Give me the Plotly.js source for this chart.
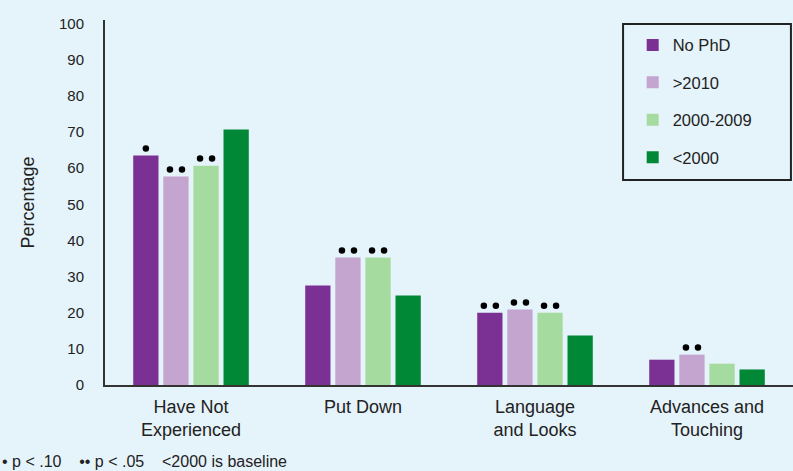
<!DOCTYPE html>
<html>
<head>
<meta charset="utf-8">
<script src="https://cdn.plot.ly/plotly-3.0.1.min.js"></script>
<style>
html,body{margin:0;padding:0;background:#e5f3fa;}
#chart{width:793px;height:471px;}
</style>
</head>
<body>
<div id="chart"></div>
<script>
// Data
const categories = ["Have Not<br>Experienced", "Put Down", "Language<br>and Looks", "Advances and<br>Touching"];
const seriesNames = ["No PhD", ">2010", "2000-2009", "<2000"];
const noPhd      = [63.5, 27.5, 20.0, 7.0];
const after2010  = [57.7, 35.3, 20.9, 8.4];
const y2000s     = [60.7, 35.3, 20.0, 5.9];
const before2000 = [70.7, 24.8, 13.7, 4.3];
// significance level vs <2000 baseline: 1 = p<.10 (one dot), 2 = p<.05 (two dots), 0 = none
const sigNoPhd      = [1, 0, 2, 0];
const sigAfter2010  = [2, 2, 2, 2];
const sigY2000s     = [2, 2, 2, 0];
const sigBefore2000 = [0, 0, 0, 0];
const yTicks = [0,10,20,30,40,50,60,70,80,90,100];
const footnote = "•\u00a0p < .10\u00a0\u00a0\u00a0\u00a0••\u00a0p < .05\u00a0\u00a0\u00a0\u00a0<2000 is baseline";

const colors = ["#7b3193", "#c3a5cf", "#a6dba0", "#008837"];
const values = [noPhd, after2010, y2000s, before2000];
const sigs = [sigNoPhd, sigAfter2010, sigY2000s, sigBefore2000];

const regular = "Liberation Sans, Arial, sans-serif";
const bargap = 0.3, bargroupgap = 0.16;
const nSeries = seriesNames.length;
const slot = (1 - bargap) / nSeries;
const xIdx = categories.map((c, i) => i);

const traces = values.map((v, i) => ({
  type: "bar",
  name: seriesNames[i],
  x: xIdx,
  y: v,
  marker: {color: colors[i], line: {width: 0}},
  legendgroup: "g" + i,
  hoverinfo: "none"
}));

// significance dots placed over the bars via the axis scales
const dotX = [], dotY = [];
const dotSep = 0.035;   // half distance between paired dots (x units)
const dotLift = 1.95;   // gap above bar top (y units)
sigs.forEach((s, i) => {
  const off = (i - (nSeries - 1) / 2) * slot;
  s.forEach((n, j) => {
    const cx = j + off, cy = values[i][j] + dotLift;
    if (n === 1) { dotX.push(cx); dotY.push(cy); }
    if (n === 2) { dotX.push(cx - dotSep, cx + dotSep); dotY.push(cy, cy); }
  });
});
traces.push({
  type: "scatter", mode: "markers", x: dotX, y: dotY,
  marker: {color: "#000", size: 6.5, line: {width: 0}},
  showlegend: false, hoverinfo: "none", cliponaxis: false
});

const layout = {
  width: 793, height: 471,
  margin: {l: 105, r: 0, t: 20, b: 86},
  paper_bgcolor: "#e5f3fa",
  plot_bgcolor: "#e5f3fa",
  barmode: "group",
  bargap: bargap,
  bargroupgap: bargroupgap,
  showlegend: true,
  legend: {
    x: 0.767, xanchor: "left",
    y: 0.979, yanchor: "top",
    bgcolor: "rgba(0,0,0,0)",
    borderwidth: 0,
    font: {family: regular, size: 16.5, color: "#222"},
    traceorder: "grouped",
    tracegroupgap: 13,
    itemclick: false
  },
  xaxis: {
    range: [-0.5, 3.5],
    tickvals: xIdx, ticktext: categories,
    showline: true, linecolor: "#333", linewidth: 2,
    ticks: "", showgrid: false, zeroline: false,
    tickfont: {family: regular, size: 18, color: "#222"},
    ticklabelstandoff: 4
  },
  yaxis: {
    range: [0, 101],
    tickvals: yTicks,
    showline: true, linecolor: "#333", linewidth: 2,
    ticks: "", showgrid: false, zeroline: false,
    tickfont: {family: regular, size: 15, color: "#222"},
    ticklabelstandoff: 16,
    title: {text: "Percentage", font: {family: regular, size: 18, color: "#222"}, standoff: 20}
  },
  shapes: [{
    type: "rect", xref: "paper", yref: "paper",
    x0: 0.753, x1: 0.997, y0: 0.5616, y1: 0.989,
    line: {color: "#222", width: 2}, fillcolor: "rgba(0,0,0,0)"
  }],
  annotations: [{
    text: footnote, xref: "paper", yref: "paper",
    x: -105/688, y: -77/365, xanchor: "left", yanchor: "middle",
    showarrow: false,
    font: {family: regular, size: 16, color: "#222"}
  }]
};

Plotly.newPlot("chart", traces, layout, {displayModeBar: false, staticPlot: true});
</script>
</body>
</html>
